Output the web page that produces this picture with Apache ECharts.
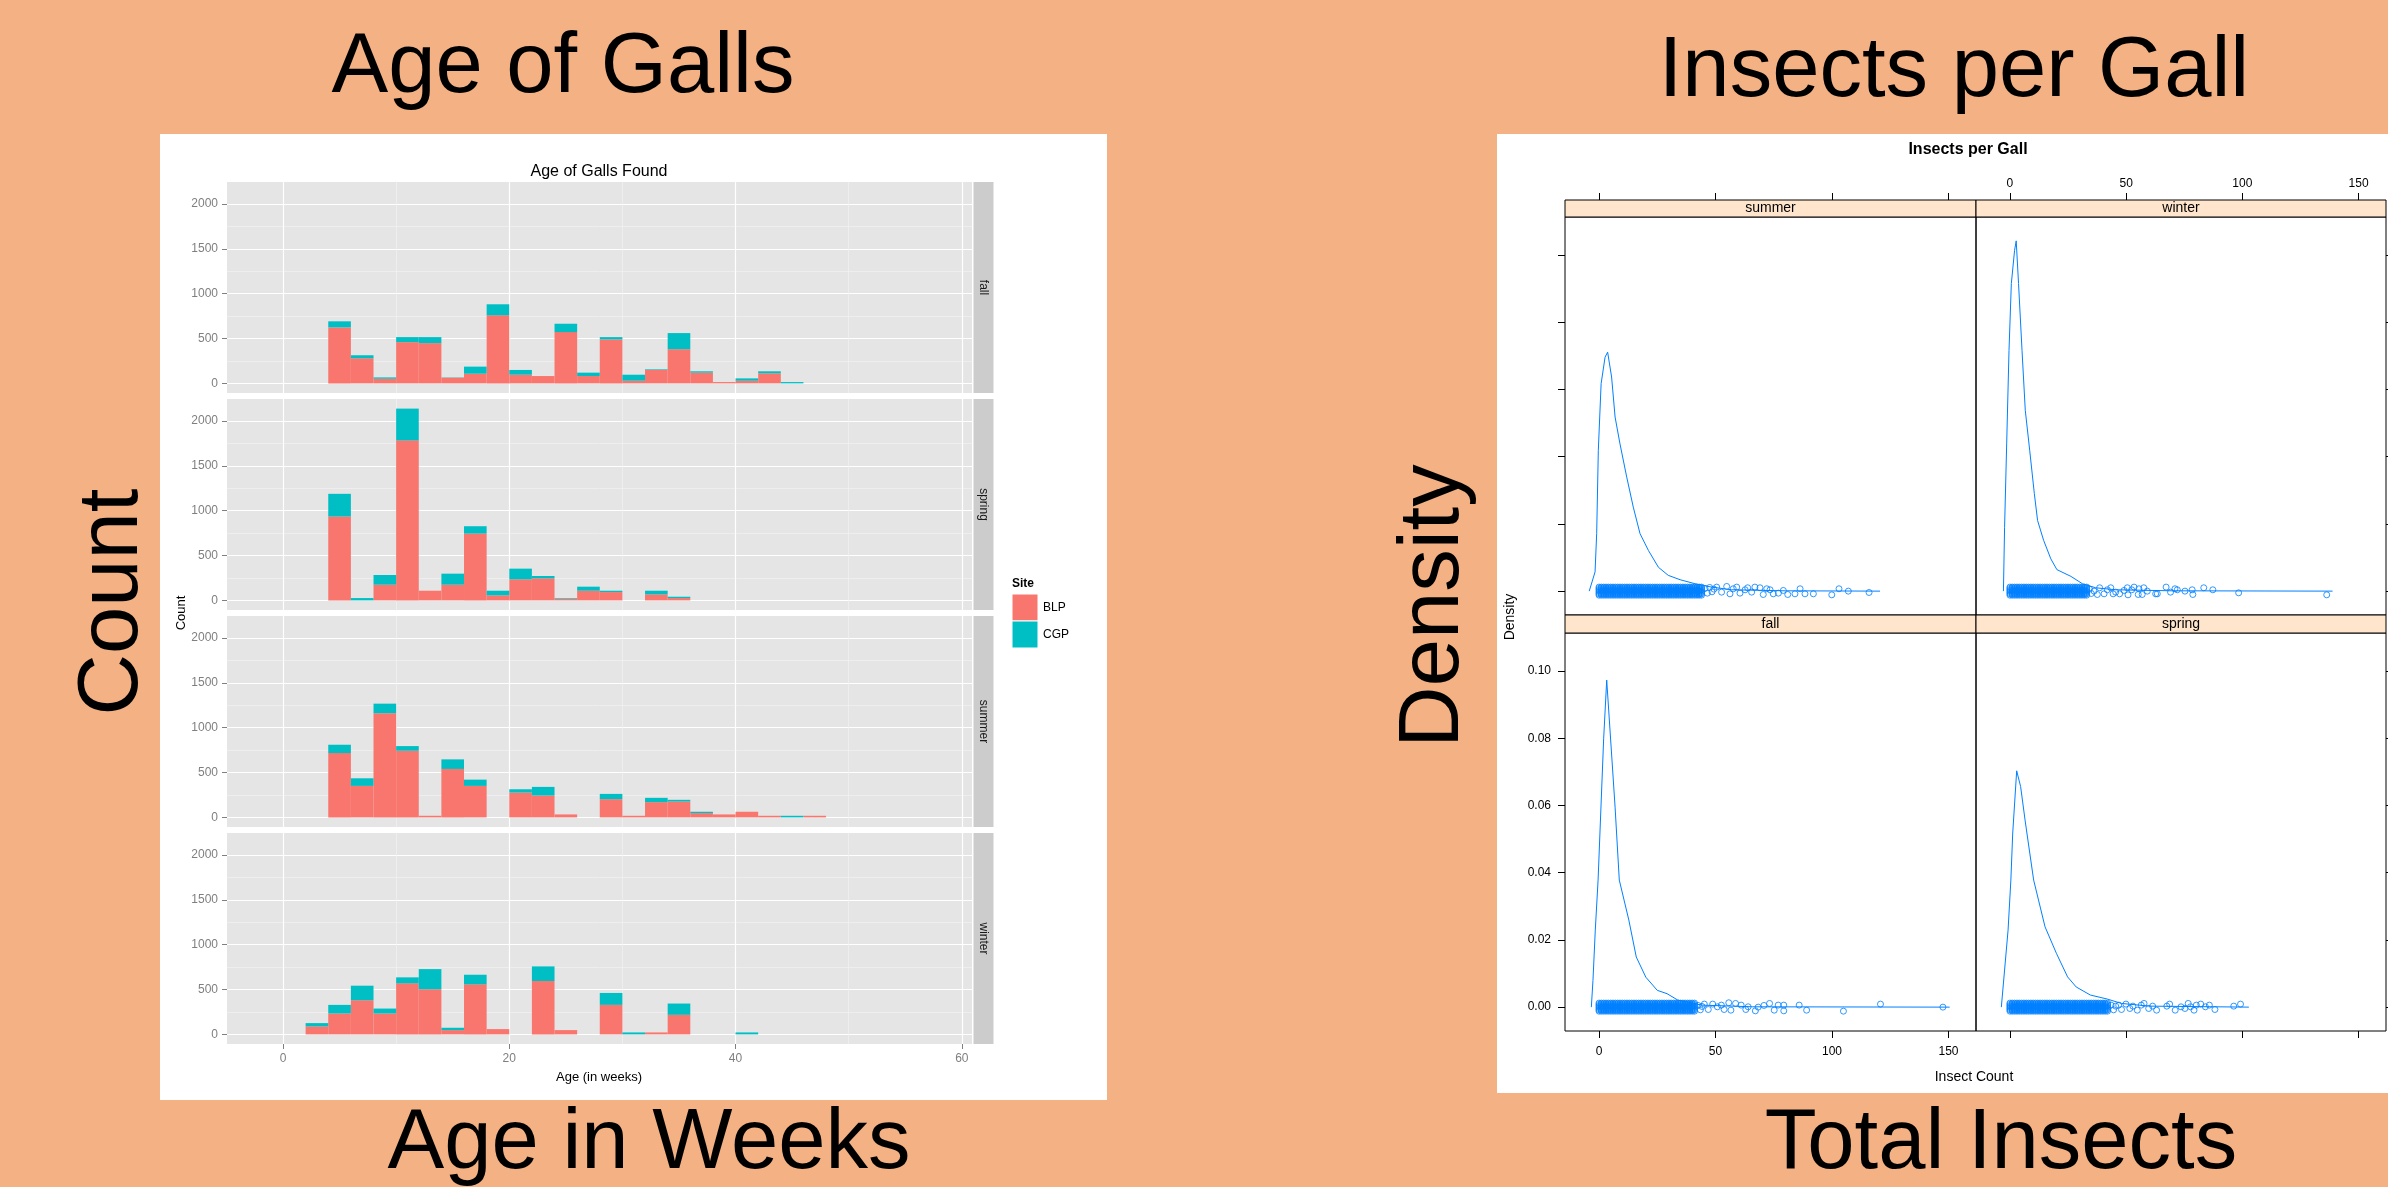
<!DOCTYPE html>
<html>
<head>
<meta charset="utf-8">
<script src="https://cdn.jsdelivr.net/npm/echarts@6/dist/echarts.min.js"></script>
<style>
html, body { margin: 0; padding: 0; background: #F4B183; }
#main { width: 2388px; height: 1187px; }
</style>
</head>
<body>
<div id="main"></div>
<script>
// ---- left chart: histogram of gall age, stacked by site, one panel per season
var binStarts = [2, 4, 6, 8, 10, 12, 14, 16, 18, 20, 22, 24, 26, 28, 30, 32, 34, 36, 38, 40, 42, 44, 46];
var binWidth = 2;
var ggSeasons = ['fall', 'spring', 'summer', 'winter'];

var fallBLP   = [0, 624, 280, 52, 460, 449, 64, 108, 759, 97, 82, 572, 82, 490, 30, 150, 381, 120, 15, 30, 112, 0, 0];
var fallCGP   = [0, 68, 34, 15, 56, 67, 3, 79, 123, 53, 0, 93, 38, 26, 67, 7, 180, 15, 0, 26, 23, 15, 0];
var springBLP = [0, 935, 0, 175, 1784, 108, 175, 745, 56, 235, 246, 19, 108, 93, 0, 67, 26, 0, 0, 0, 0, 0, 0];
var springCGP = [0, 253, 26, 108, 354, 0, 123, 82, 52, 119, 26, 7, 45, 15, 0, 41, 15, 0, 0, 0, 0, 0, 0];
var summerBLP = [0, 717, 351, 1161, 743, 18, 540, 351, 0, 277, 244, 33, 0, 203, 18, 170, 177, 48, 33, 63, 18, 0, 18];
var summerCGP = [0, 93, 85, 107, 52, 0, 107, 70, 0, 37, 96, 0, 0, 59, 0, 48, 19, 15, 0, 0, 0, 18, 0];
var winterBLP = [89, 233, 381, 233, 569, 503, 48, 558, 59, 0, 595, 48, 0, 329, 0, 22, 218, 0, 0, 0, 0, 0, 0];
var winterCGP = [37, 96, 162, 55, 67, 225, 26, 107, 0, 0, 163, 0, 0, 133, 22, 0, 126, 0, 0, 22, 0, 0, 0];

var ageTicks = [0, 20, 40, 60];
var ageMinor = [10, 30, 50];
var countTicks = [0, 500, 1000, 1500, 2000];
var countMinor = [250, 750, 1250, 1750];

// ---- right chart: density of insects per gall, one panel per season
var ltSeasons = ['summer', 'winter', 'fall', 'spring'];
var summerDensity = [[-4.2, 0], [-1.7, 0.0057], [-1.0, 0.0171], [-0.3, 0.0419], [0.9, 0.0617], [2.6, 0.0696],
  [3.7, 0.0711], [5.4, 0.0637], [6.9, 0.0518], [9.0, 0.0438], [11.9, 0.0339], [14.7, 0.0250], [17.6, 0.0171],
  [21.2, 0.0121], [25.5, 0.0071], [29.7, 0.0047], [34.8, 0.0034], [41.2, 0.0022], [48.4, 0.0012], [56.9, 0.0004],
  [80, 0.0001], [120.6, 0]];
var winterDensity = [[-2.8, 0], [-2.3, 0.019], [-1.4, 0.0438], [-0.4, 0.0716], [0.6, 0.0915], [2.0, 0.1014],
  [2.7, 0.1042], [3.7, 0.0915], [5.2, 0.0716], [6.6, 0.0538], [8.5, 0.0419], [10.5, 0.0290], [11.9, 0.0210],
  [14.5, 0.0151], [17.6, 0.0096], [20.2, 0.0064], [26.2, 0.0044], [31.2, 0.0022], [36.9, 0.0010], [45.5, 0.0004],
  [70, 0.0001], [138.8, 0]];
var fallDensity = [[-3.3, 0], [-2.6, 0.0079], [-1.6, 0.0229], [-0.4, 0.0378], [2.0, 0.0800], [3.3, 0.0973],
  [6.9, 0.0595], [8.7, 0.0378], [12.8, 0.0259], [16.0, 0.0149], [20.1, 0.0089], [25.0, 0.0050], [29.2, 0.0040],
  [33.8, 0.0021], [44.0, 0.0006], [66, 0.0001], [150.5, 0]];
var springDensity = [[-3.7, 0], [-0.8, 0.0229], [0.4, 0.0378], [1.2, 0.0518], [2.9, 0.0703], [4.6, 0.0656],
  [6.5, 0.0557], [7.3, 0.0518], [10.2, 0.0378], [15.1, 0.0239], [20.0, 0.0160], [24.8, 0.0090], [28.5, 0.0060],
  [34.6, 0.0036], [41.9, 0.0024], [48.0, 0.0011], [60, 0.0003], [102.8, 0]];

// every integer count up to the end of the solid rug, plotted at each jitter level
var denseCounts = [0, 1, 2, 3, 4, 5, 6, 7, 8, 9, 10, 11, 12, 13, 14, 15, 16, 17, 18, 19, 20, 21, 22,
  23, 24, 25, 26, 27, 28, 29, 30, 31, 32, 33, 34, 35, 36, 37, 38, 39, 40, 41, 42, 43, 44];
var jitterLevels = [-0.0012, -0.0008, -0.0004, 0, 0.0004, 0.0008, 0.0012];
var bandEnd = {summer: 44, winter: 33, fall: 41, spring: 42};

var summerSparse = [[45.5, 0.0008], [46.5, -0.0006], [47.5, 0.0011], [48.5, -0.0002], [49.3, 0.0006],
  [50.5, 0.0012], [52.6, -0.0003], [54.8, 0.0014], [56.2, -0.0008], [57.6, 0.0007], [59.1, 0.0012],
  [60.5, -0.0006], [62.7, 0.0004], [63.8, 0.001], [65.5, -0.0003], [66.9, 0.0012], [69.1, 0.001],
  [70.5, -0.001], [72.0, 0.0007], [73.4, 0.0004], [74.8, -0.0008], [77.0, -0.0006], [79.1, 0.0002],
  [81.0, -0.001], [84.1, -0.0008], [86.3, 0.0007], [88.4, -0.0008], [92.0, -0.0008], [99.9, -0.0011],
  [103.0, 0.0007], [107.0, 0], [115.9, -0.0004]];
var winterSparse = [[34.2, 0.0006], [35.0, -0.0007], [36.2, 0], [37.6, -0.001], [38.6, 0.001], [40.5, -0.0008],
  [41.9, 0.0004], [43.4, 0.001], [44.4, -0.0008], [45.5, -0.0003], [47.2, -0.0008], [49.1, 0.0002],
  [50.5, 0.001], [50.8, -0.0011], [52.4, 0.0004], [53.4, 0.0012], [55.2, -0.001], [55.5, 0.0007],
  [56.9, -0.001], [57.6, 0.001], [59.1, 0], [62.7, -0.0008], [63.4, -0.0008], [67.2, 0.0012],
  [69.1, -0.0003], [71.0, 0.0007], [72.0, 0.0004], [75.3, 0], [78.4, 0.0004], [78.7, -0.001],
  [83.4, 0.001], [87.3, 0.0004], [98.4, -0.0005], [136.3, -0.0011]];
var fallSparse = [[42.5, 0.0005], [43.5, -0.0008], [44.2, 0.0002], [45.2, 0.0009], [46.9, -0.0007],
  [48.8, 0.0009], [50.8, 0.0001], [52.5, 0.0006], [53.7, -0.0007], [55.7, 0.0013], [56.6, -0.0009],
  [58.6, 0.0011], [61.0, 0.0006], [63.0, -0.0007], [64.0, 0.0001], [67.1, -0.0011], [68.3, 0],
  [70.8, 0.0005], [73.2, 0.0011], [75.2, -0.0009], [76.9, 0.0006], [79.3, -0.0011], [79.3, 0.0006],
  [85.9, 0.0006], [89.1, -0.0009], [104.9, -0.0012], [120.8, 0.0009], [147.6, 0]];
var springSparse = [[43.5, 0.0006], [44.6, -0.0008], [45.5, 0.0003], [46.8, 0.0006], [48.0, -0.0007],
  [49.9, 0.0009], [51.6, -0.0004], [52.9, 0.0003], [54.8, -0.0009], [56.5, 0.0006], [57.7, 0.0011],
  [59.7, -0.0004], [61.4, 0.0003], [63.1, -0.0009], [67.5, 0.0003], [68.7, 0.0009], [71.1, -0.0009],
  [73.6, 0.0001], [75.3, -0.0004], [76.7, 0.0011], [77.7, 0.0001], [79.2, -0.0009], [80.2, 0.0006],
  [82.1, 0.0009], [84.1, 0.0001], [85.8, 0.0006], [88.2, -0.0007], [96.3, 0.0003], [99.2, 0.0009]];

var insectTicks = [0, 50, 100, 150];
var densityTicks = [0, 0.02, 0.04, 0.06, 0.08, 0.10];

// ---------------------------------------------------------------
var ggData = {
  fall: [fallBLP, fallCGP], spring: [springBLP, springCGP],
  summer: [summerBLP, summerCGP], winter: [winterBLP, winterCGP]
};
var ltDensity = {summer: summerDensity, winter: winterDensity, fall: fallDensity, spring: springDensity};
var ltSparse = {summer: summerSparse, winter: winterSparse, fall: fallSparse, spring: springSparse};

var FONT = '"Liberation Sans", Arial, sans-serif';
var BLP_COLOR = '#F8766D', CGP_COLOR = '#00BFC4';

function stackedBins(blp, cgp) {
  var lower = [], upper = [];
  binStarts.forEach(function (s, k) {
    if (blp[k] > 0) lower.push([s, s + binWidth, 0, blp[k]]);
    if (cgp[k] > 0) upper.push([s, s + binWidth, blp[k], blp[k] + cgp[k]]);
  });
  return [lower, upper];
}

function renderBin(params, api) {
  var tl = api.coord([api.value(0), api.value(3)]);
  var br = api.coord([api.value(1), api.value(2)]);
  return {
    type: 'rect',
    shape: {x: tl[0], y: tl[1], width: br[0] - tl[0], height: br[1] - tl[1]},
    style: {fill: api.visual('color')}
  };
}

function rugPoints(season) {
  var pts = [];
  denseCounts.forEach(function (c) {
    if (c <= bandEnd[season]) {
      jitterLevels.forEach(function (j) { pts.push([c, j]); });
    }
  });
  return pts.concat(ltSparse[season]);
}

function plain(v) { return String(v); }

var grids = [], xAxes = [], yAxes = [], series = [], graphics = [];

// white slide boxes
graphics.push({type: 'rect', z: -10, shape: {x: 160, y: 134, width: 947, height: 966}, style: {fill: '#fff'}});
graphics.push({type: 'rect', z: -10, shape: {x: 1497, y: 134, width: 891, height: 959}, style: {fill: '#fff'}});

// ---- ggplot-like facets
var ggTops = [182, 399, 616, 833];
ggSeasons.forEach(function (season, i) {
  grids.push({left: 227, top: ggTops[i], width: 745, height: 211, show: true,
    backgroundColor: '#E5E5E5', borderWidth: 0});
  var last = i === ggSeasons.length - 1;
  xAxes.push({
    type: 'value', gridIndex: i, min: -4.95, max: 60.9, position: 'bottom',
    axisLine: {show: false, onZero: false},
    axisTick: {show: last, length: 5, customValues: ageTicks, lineStyle: {color: '#7f7f7f'}},
    axisLabel: {show: last, customValues: ageTicks, color: '#7f7f7f', fontSize: 12, fontFamily: FONT, margin: 9,
      formatter: plain},
    splitLine: {show: true, lineStyle: {color: '#fff', width: 1.2}}
  });
  xAxes.push({
    type: 'value', gridIndex: i, min: -4.95, max: 60.9, position: 'top',
    axisLine: {show: false, onZero: false}, axisLabel: {show: false},
    axisTick: {show: false, customValues: ageMinor},
    splitLine: {show: true, lineStyle: {color: '#F2F2F2', width: 0.7}}
  });
  yAxes.push({
    type: 'value', gridIndex: i, min: -107, max: 2245, position: 'left',
    axisLine: {show: false, onZero: false},
    axisTick: {show: true, length: 5, customValues: countTicks, lineStyle: {color: '#7f7f7f'}},
    axisLabel: {customValues: countTicks, color: '#7f7f7f', fontSize: 12, fontFamily: FONT, margin: 9,
      formatter: plain},
    splitLine: {show: true, lineStyle: {color: '#fff', width: 1.2}}
  });
  yAxes.push({
    type: 'value', gridIndex: i, min: -107, max: 2245, position: 'right',
    axisLine: {show: false, onZero: false}, axisLabel: {show: false},
    axisTick: {show: false, customValues: countMinor},
    splitLine: {show: true, lineStyle: {color: '#F2F2F2', width: 0.7}}
  });
  var bins = stackedBins(ggData[season][0], ggData[season][1]);
  series.push({type: 'custom', name: 'BLP', xAxisIndex: 2 * i, yAxisIndex: 2 * i, renderItem: renderBin,
    encode: {x: [0, 1], y: [2, 3]}, itemStyle: {color: BLP_COLOR}, data: bins[0], z: 3});
  series.push({type: 'custom', name: 'CGP', xAxisIndex: 2 * i, yAxisIndex: 2 * i, renderItem: renderBin,
    encode: {x: [0, 1], y: [2, 3]}, itemStyle: {color: CGP_COLOR}, data: bins[1], z: 3});

  graphics.push({type: 'rect', z: 5, shape: {x: 973.5, y: ggTops[i], width: 20, height: 211}, style: {fill: '#CCCCCC'}});
  graphics.push({type: 'text', z: 6, x: 983.5, y: ggTops[i] + 105.5, rotation: -Math.PI / 2,
    style: {text: season, font: '12px ' + FONT, fill: '#1A1A1A', align: 'center', verticalAlign: 'middle'}});
});

graphics.push({type: 'text', z: 6, x: 599, y: 172,
  style: {text: 'Age of Galls Found', font: '16px ' + FONT, fill: '#000', align: 'center', verticalAlign: 'middle'}});
graphics.push({type: 'text', z: 6, x: 599, y: 1077,
  style: {text: 'Age (in weeks)', font: '13px ' + FONT, fill: '#000', align: 'center', verticalAlign: 'middle'}});
graphics.push({type: 'text', z: 6, x: 181, y: 613, rotation: Math.PI / 2,
  style: {text: 'Count', font: '13px ' + FONT, fill: '#000', align: 'center', verticalAlign: 'middle'}});
// legend
graphics.push({type: 'text', z: 6, x: 1012, y: 584,
  style: {text: 'Site', font: 'bold 12px ' + FONT, fill: '#000', align: 'left', verticalAlign: 'middle'}});
graphics.push({type: 'rect', z: 6, shape: {x: 1012, y: 594, width: 26, height: 27}, style: {fill: BLP_COLOR, stroke: '#fff', lineWidth: 1}});
graphics.push({type: 'rect', z: 6, shape: {x: 1012, y: 621, width: 26, height: 27}, style: {fill: CGP_COLOR, stroke: '#fff', lineWidth: 1}});
graphics.push({type: 'text', z: 6, x: 1043, y: 608,
  style: {text: 'BLP', font: '12px ' + FONT, fill: '#000', align: 'left', verticalAlign: 'middle'}});
graphics.push({type: 'text', z: 6, x: 1043, y: 635,
  style: {text: 'CGP', font: '12px ' + FONT, fill: '#000', align: 'left', verticalAlign: 'middle'}});

// ---- lattice-like panels
var XR = [-14.6, 161.8], YR = [-0.0071, 0.1113];
ltSeasons.forEach(function (season, j) {
  var row = j < 2 ? 0 : 1, col = j % 2;
  var g = 4 + j, a = 8 + j;
  var left = col ? 1976 : 1565, top = row ? 633 : 217, width = col ? 410 : 411;
  grids.push({left: left, top: top, width: width, height: 398, show: true,
    backgroundColor: 'transparent', borderColor: '#000', borderWidth: 1});
  var xLabels = (row === 0 && col === 1) || (row === 1 && col === 0);
  xAxes.push({
    type: 'value', gridIndex: g, min: XR[0], max: XR[1],
    position: row === 0 ? 'top' : 'bottom', offset: row === 0 ? 17 : 0,
    axisLine: {show: false, onZero: false},
    axisTick: {show: true, length: 7, customValues: insectTicks, lineStyle: {color: '#000'}},
    axisLabel: {show: xLabels, customValues: insectTicks, color: '#000', fontSize: 12, fontFamily: FONT,
      margin: row === 0 ? 10 : 15, formatter: plain},
    splitLine: {show: false}
  });
  yAxes.push({
    type: 'value', gridIndex: g, min: YR[0], max: YR[1], position: col === 0 ? 'left' : 'right',
    axisLine: {show: false, onZero: false},
    axisTick: {show: true, length: 7, customValues: densityTicks, lineStyle: {color: '#000'}},
    axisLabel: {show: row === 1 && col === 0, customValues: densityTicks, color: '#000', fontSize: 12,
      fontFamily: FONT, margin: 14, formatter: function (v) { return v.toFixed(2); }},
    splitLine: {show: false}
  });
  series.push({type: 'line', xAxisIndex: a, yAxisIndex: a, data: ltDensity[season], symbol: 'none',
    lineStyle: {color: '#0080FF', width: 1}, z: 4});
  series.push({type: 'scatter', xAxisIndex: a, yAxisIndex: a, data: rugPoints(season), symbol: 'circle',
    symbolSize: 6, itemStyle: {color: 'rgba(0,0,0,0)', borderColor: '#0080FF', borderWidth: 1}, z: 5});

  var sy = row ? 615 : 200, sh = row ? 18 : 17;
  graphics.push({type: 'rect', z: 5, shape: {x: left, y: sy, width: width, height: sh},
    style: {fill: '#FFE5CC', stroke: '#000', lineWidth: 1}});
  graphics.push({type: 'text', z: 6, x: left + width / 2, y: sy + sh / 2,
    style: {text: season, font: '14px ' + FONT, fill: '#000', align: 'center', verticalAlign: 'middle'}});
});

graphics.push({type: 'text', z: 6, x: 1968, y: 150,
  style: {text: 'Insects per Gall', font: 'bold 16px ' + FONT, fill: '#000', align: 'center', verticalAlign: 'middle'}});
graphics.push({type: 'text', z: 6, x: 1974, y: 1077,
  style: {text: 'Insect Count', font: '14px ' + FONT, fill: '#000', align: 'center', verticalAlign: 'middle'}});
graphics.push({type: 'text', z: 6, x: 1510, y: 617, rotation: Math.PI / 2,
  style: {text: 'Density', font: '14px ' + FONT, fill: '#000', align: 'center', verticalAlign: 'middle'}});

// ---- slide headings
[['Age of Galls', 563, 69, 0], ['Age in Weeks', 649, 1145, 0], ['Count', 114, 602, Math.PI / 2],
 ['Insects per Gall', 1954, 73, 0], ['Total Insects', 2001, 1145, 0], ['Density', 1435, 606, Math.PI / 2]
].forEach(function (t) {
  graphics.push({type: 'text', z: 6, x: t[1], y: t[2], rotation: t[3],
    style: {text: t[0], font: '85px ' + FONT, fill: '#000', align: 'center', verticalAlign: 'middle'}});
});

var myChart = echarts.init(document.getElementById('main'));
var option = {
  backgroundColor: '#F4B183',
  animation: false,
  textStyle: {fontFamily: FONT},
  grid: grids,
  xAxis: xAxes,
  yAxis: yAxes,
  series: series,
  graphic: {elements: graphics}
};
myChart.setOption(option);
</script>
</body>
</html>
